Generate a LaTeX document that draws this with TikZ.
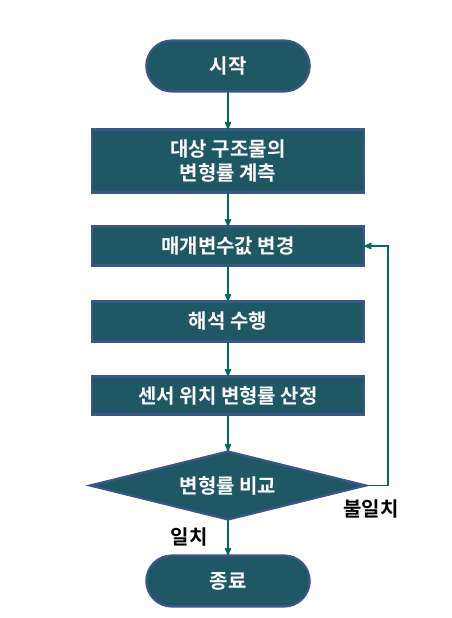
\documentclass[tikz,border=0pt]{standalone}
\usepackage{fontspec}
\setmainfont{Noto Sans CJK KR}[BoldFont={Noto Sans CJK KR Bold}]
\usepackage{tikz}
\usetikzlibrary{positioning}
\usetikzlibrary{shapes,arrows,shapes.geometric,shapes.misc}
\definecolor{boxfill}{RGB}{31,87,100}
\definecolor{boxline}{RGB}{59,87,138}
\definecolor{arrowcol}{RGB}{0,106,96}
\tikzset{
    %Define standard arrow tip
    >=stealth',
    % Define arrow style
    pil/.style={
           ->,
           line width=1.6pt,
           draw=arrowcol,}
}
\newcommand{\boxwidth}{272pt}
\newcommand{\termwidth}{170pt}

\begin{document}
\begin{tikzpicture}[node distance=36pt, outer sep=0pt]
\tikzstyle{term}=[draw=boxline, line width=2.2pt, fill=boxfill, rounded rectangle, minimum height=51pt, minimum width=\termwidth, text=white, font=\fontsize{20}{24}\selectfont\bfseries]
\tikzstyle{proc}=[draw=boxline, line width=2.2pt, fill=boxfill, rectangle, minimum width=\boxwidth, text=white, align=center, font=\fontsize{20}{24}\selectfont\bfseries]
\tikzstyle{decide}=[draw=boxline, line width=2.2pt, fill=boxfill, diamond, aspect=4, minimum width=276pt, minimum height=68pt, inner sep=0pt, text=white, font=\fontsize{20}{24}\selectfont\bfseries]
\tikzstyle{lbl}=[font=\fontsize{20}{24}\selectfont\bfseries]

\useasboundingbox (0,0) rectangle (452pt,-618pt);

\node[term] (start) at (228pt,-66pt) {시작};
\node[proc, minimum height=63pt] (measure) [below = 38pt of start] {대상 구조물의\\변형률 계측};
\node[proc, minimum height=39pt] (change) [below = 34pt of measure] {매개변수값 변경};
\node[proc, minimum height=40pt] (analysis) [below = 36pt of change] {해석 수행};
\node[proc, minimum height=38pt] (sensor) [below = 35pt of analysis] {센서 위치 변형률 산정};
\node[decide] (compare) [below = 37pt of sensor] {변형률 비교};
\node[term] (finish) [below = 36pt of compare] {종료};

\draw[pil] (start.south) -- (measure.north);
\draw[pil] (measure.south) -- (change.north);
\draw[pil] (change.south) -- (analysis.north);
\draw[pil] (analysis.south) -- (sensor.north);
\draw[pil] (sensor.south) -- (compare.north);
\draw[pil] (compare.south) -- (finish.north);
\draw[pil] (compare.east) -- ++(22pt,0) |- (change.east);

\node[lbl] (yes) at (189pt,-537pt) {일치};
\node[lbl] (no) at (371pt,-509pt) {불일치};

\end{tikzpicture}
\end{document}
